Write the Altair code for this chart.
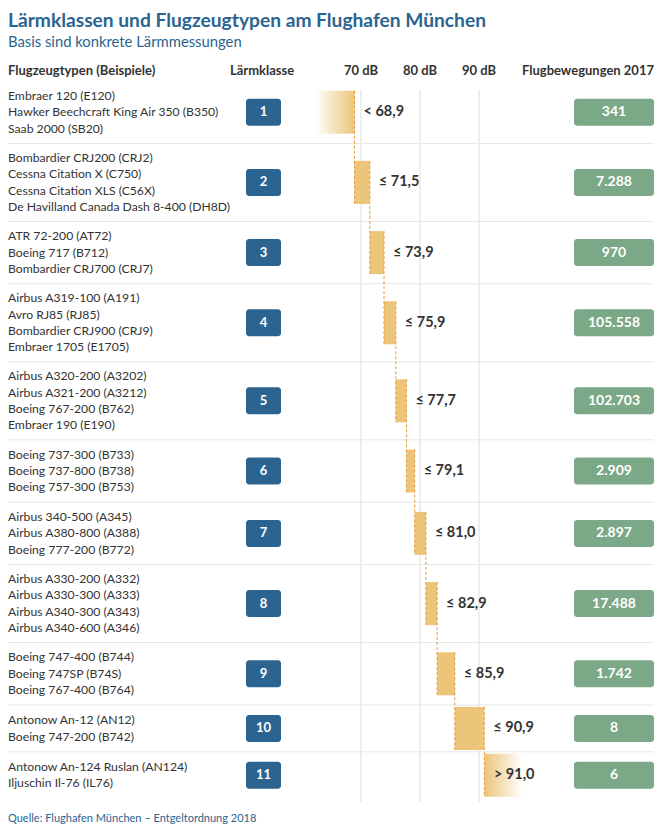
import altair as alt
import pandas as pd

# ---------------- data ----------------
classes = list(range(1, 12))
aircraft = [
    ["Embraer 120 (E120)", "Hawker Beechcraft King Air 350 (B350)", "Saab 2000 (SB20)"],
    ["Bombardier CRJ200 (CRJ2)", "Cessna Citation X (C750)", "Cessna Citation XLS (C56X)",
     "De Havilland Canada Dash 8-400 (DH8D)"],
    ["ATR 72-200 (AT72)", "Boeing 717 (B712)", "Bombardier CRJ700 (CRJ7)"],
    ["Airbus A319-100 (A191)", "Avro RJ85 (RJ85)", "Bombardier CRJ900 (CRJ9)", "Embraer 1705 (E1705)"],
    ["Airbus A320-200 (A3202)", "Airbus A321-200 (A3212)", "Boeing 767-200 (B762)", "Embraer 190 (E190)"],
    ["Boeing 737-300 (B733)", "Boeing 737-800 (B738)", "Boeing 757-300 (B753)"],
    ["Airbus 340-500 (A345)", "Airbus A380-800 (A388)", "Boeing 777-200 (B772)"],
    ["Airbus A330-200 (A332)", "Airbus A330-300 (A333)", "Airbus A340-300 (A343)", "Airbus A340-600 (A346)"],
    ["Boeing 747-400 (B744)", "Boeing 747SP (B74S)", "Boeing 767-400 (B764)"],
    ["Antonow An-12 (AN12)", "Boeing 747-200 (B742)"],
    ["Antonow An-124 Ruslan (AN124)", "Iljuschin Il-76 (IL76)"],
]
thresholds = [68.9, 71.5, 73.9, 75.9, 77.7, 79.1, 81.0, 82.9, 85.9, 90.9, 91.0]
prefixes = ["<", "≤", "≤", "≤", "≤", "≤", "≤", "≤", "≤", "≤", ">"]
movements = [341, 7288, 970, 105558, 102703, 2909, 2897, 17488, 1742, 8, 6]
grid_db = [70, 80, 90]
fade_start_db = 62.2   # visible start of the faded first bar
fade_end_db = 97.3     # visible end of the faded last bar

title = "Lärmklassen und Flugzeugtypen am Flughafen München"
subtitle = "Basis sind konkrete Lärmmessungen"
source = "Quelle: Flughafen München – Entgeltordnung 2018"
hdr_types = "Flugzeugtypen (Beispiele)"
hdr_class = "Lärmklasse"
hdr_moves = "Flugbewegungen 2017"

# ---------------- layout ----------------
W, H = 646, 818
FONT = "Lato"
BLUE = "#2b6490"
GREEN = "#7ba886"
GOLD = "#ecc47a"
DASH = "#e89a3a"
TXT = "#333333"
LINE = "#e6e6e6"

PX_PER_DB = 5.9
X70 = 353
x_dom = [70 - X70 / PX_PER_DB, 70 + (W - X70) / PX_PER_DB]
xs = alt.Scale(domain=x_dom, nice=False, zero=False)
ys = alt.Scale(domain=[0, H], reverse=True, nice=False, zero=False)

def X(f):
    return alt.X(f"{f}:Q", scale=xs, axis=None)

def Y(f):
    return alt.Y(f"{f}:Q", scale=ys, axis=None)

ROW0 = 73
UNIT = 15.6
LINE_H = 16.4
BAR_H = 43

rows, lines_rows = [], []
top = ROW0
for i, c in enumerate(classes):
    n = len(aircraft[i])
    h = (n + 1) * UNIT
    cen = top + h / 2
    lo = fade_start_db if i == 0 else thresholds[i - 1]
    hi = fade_end_db if i == len(classes) - 1 else thresholds[i]
    rows.append(dict(
        cls=c, top=top, cen=cen, lo=lo, hi=hi, thr=thresholds[i],
        b0=cen - BAR_H / 2, b1=cen + BAR_H / 2,
        k0=cen - 13.5, k1=cen + 13.5,
        label=f"{prefixes[i]} {thresholds[i]:.1f}".replace(".", ","),
        label_db=thresholds[i],
        moves=f"{movements[i]:,}".replace(",", "."),
        cls_txt=str(c),
    ))
    for j, t in enumerate(aircraft[i]):
        lines_rows.append(dict(txt=t, y=cen + (j - (n - 1) / 2) * LINE_H))
    top += h

df = pd.DataFrame(rows)
for i in range(len(df) - 1):
    df.loc[i, "next_b1"] = df.loc[i + 1, "b1"]
df_lines = pd.DataFrame(lines_rows)
df_sep = pd.DataFrame({"y": df["top"].iloc[1:].tolist()})
df_grid = pd.DataFrame({"db": grid_db, "lab": [f"{g} dB" for g in grid_db]})

# ---------------- layers ----------------
sep = alt.Chart(df_sep).mark_rule(color=LINE, strokeWidth=1).encode(
    x=alt.value(0), x2=alt.value(W), y=Y("y"))

grid = alt.Chart(df_grid).mark_rule(color="#e8e8e8", strokeWidth=1.5).encode(
    x=X("db"), y=alt.value(82), y2=alt.value(794))

bars = alt.Chart(df).transform_filter("datum.cls > 1 && datum.cls < 11").mark_rect(
    color=GOLD).encode(x=X("lo"), x2=alt.X2("hi"), y=Y("b0"), y2=alt.Y2("b1"))

grad_in = alt.LinearGradient(
    gradient="linear", x1=0, x2=1, y1=0, y2=0,
    stops=[alt.GradientStop(color="rgba(236,196,122,0)", offset=0),
           alt.GradientStop(color=GOLD, offset=1)])
grad_out = alt.LinearGradient(
    gradient="linear", x1=0, x2=1, y1=0, y2=0,
    stops=[alt.GradientStop(color=GOLD, offset=0),
           alt.GradientStop(color="rgba(236,196,122,0)", offset=1)])

bar_first = alt.Chart(df).transform_filter("datum.cls == 1").mark_rect(
    color=grad_in).encode(x=X("lo"), x2=alt.X2("hi"), y=Y("b0"), y2=alt.Y2("b1"))
bar_last = alt.Chart(df).transform_filter("datum.cls == 11").mark_rect(
    color=grad_out).encode(x=X("lo"), x2=alt.X2("hi"), y=Y("b0"), y2=alt.Y2("b1"))

dashes = alt.Chart(df).transform_filter("datum.cls < 11").mark_rule(
    color=DASH, strokeWidth=1, strokeDash=[3, 2]).encode(
    x=X("thr"), y=Y("b0"), y2=alt.Y2("next_b1"))

vlabels = alt.Chart(df).mark_text(
    font=FONT, fontSize=14.5, fontWeight="bold", color=TXT, align="left",
    baseline="middle", dx=9).encode(x=X("label_db"), y=Y("cen"), text="label:N")

ac_text = alt.Chart(df_lines).mark_text(
    font=FONT, fontSize=12.2, color=TXT, align="left", baseline="middle").encode(
    x=alt.value(0), y=Y("y"), text="txt:N")

badge = alt.Chart(df).mark_rect(color=BLUE, cornerRadius=3).encode(
    x=alt.value(238), x2=alt.value(273), y=Y("k0"), y2=alt.Y2("k1"))
badge_t = alt.Chart(df).mark_text(
    font=FONT, fontSize=13, fontWeight="bold", color="white", align="center",
    baseline="middle").encode(x=alt.value(255.5), y=Y("cen"), text="cls_txt:N")

gbox = alt.Chart(df).mark_rect(color=GREEN, cornerRadius=3).encode(
    x=alt.value(W - 80), x2=alt.value(W), y=Y("k0"), y2=alt.Y2("k1"))
gbox_t = alt.Chart(df).mark_text(
    font=FONT, fontSize=14, fontWeight="bold", color="white", align="center",
    baseline="middle").encode(x=alt.value(W - 40), y=Y("cen"), text="moves:N")

def label(txt, x, y, size, color=TXT, weight="normal", align="left", baseline="middle"):
    return alt.Chart(pd.DataFrame({"t": [txt]})).mark_text(
        font=FONT, fontSize=size, fontWeight=weight, color=color, align=align,
        baseline=baseline).encode(x=alt.value(x), y=alt.value(y), text="t:N")

t_title = label(title, 0, 19, 19.2, color=BLUE, weight="bold", baseline="alphabetic")
t_sub = label(subtitle, 0, 35, 14.8, color=BLUE)
t_h1 = label(hdr_types, 0, 63, 13, weight="bold")
t_h2 = label(hdr_class, 222, 63, 13, weight="bold")
t_h3 = label(hdr_moves, W, 63, 13, weight="bold", align="right")
t_src = label(source, 0, 811, 11, color=BLUE)

db_hdr = alt.Chart(df_grid).mark_text(
    font=FONT, fontSize=13, fontWeight="bold", color=TXT, align="center",
    baseline="middle").encode(x=X("db"), y=alt.value(63), text="lab:N")

chart = alt.layer(
    sep, grid, bar_first, bars, bar_last, dashes, vlabels, ac_text,
    badge, badge_t, gbox, gbox_t,
    t_title, t_sub, t_h1, t_h2, t_h3, db_hdr, t_src,
).properties(
    width=W, height=H, padding=0, autosize=alt.AutoSizeParams(type="none"),
    background="white",
).configure_view(stroke=None)

chart.save("out.html", embed_options={"renderer": "svg", "actions": False})
